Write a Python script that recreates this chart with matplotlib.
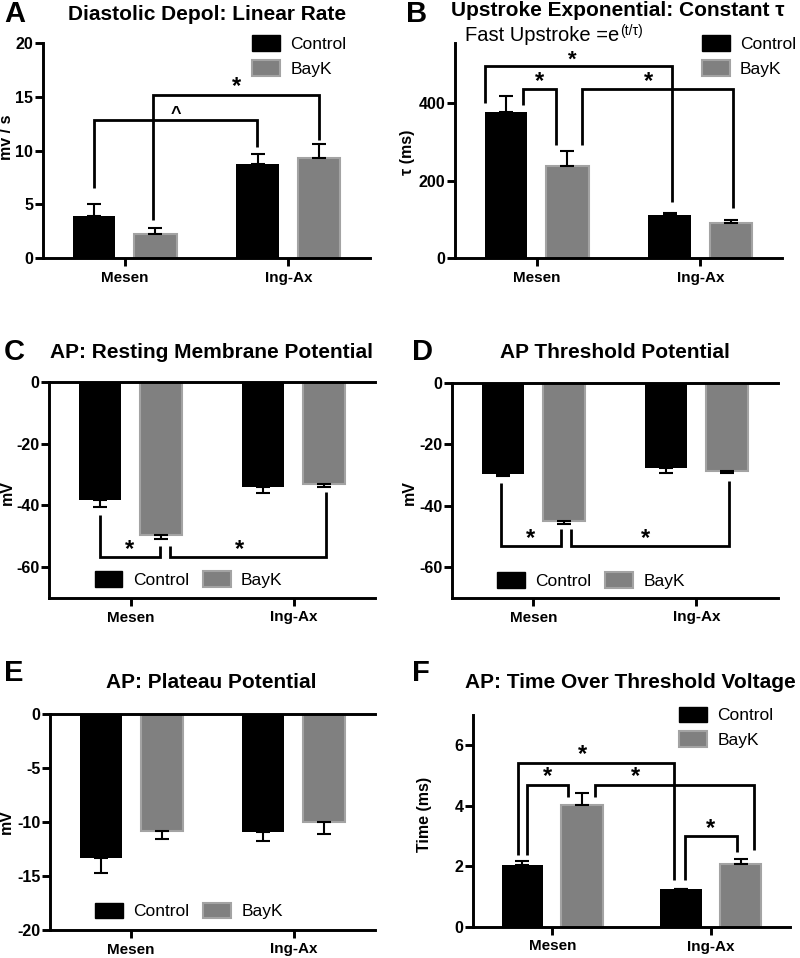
import numpy as np
import matplotlib.pyplot as plt
from matplotlib.patches import Patch

plt.rcParams['font.family'] = ['Liberation Sans', 'DejaVu Sans']
plt.rcParams['axes.unicode_minus'] = False

groups = ['Mesen', 'Ing-Ax']
series = ['Control', 'BayK']

# A: diastolic depolarization, linear rate (mv/s)
a_control = [3.9, 8.7]
a_control_sem = [1.1, 1.0]
a_bayk = [2.2, 9.3]
a_bayk_sem = [0.6, 1.3]

# B: upstroke exponential tau (ms)
b_control = [378, 111]
b_control_sem = [41, 4]
b_bayk = [238, 91]
b_bayk_sem = [39, 7]

# C: resting membrane potential (mV)
c_control = [-38.3, -34.1]
c_control_sem = [2.2, 1.9]
c_bayk = [-49.7, -33.0]
c_bayk_sem = [1.3, 1.0]

# D: threshold potential (mV)
d_control = [-29.6, -27.7]
d_control_sem = [0.8, 1.7]
d_bayk = [-45.0, -28.8]
d_bayk_sem = [0.8, 0.6]

# E: plateau potential (mV)
e_control = [-13.3, -10.95]
e_control_sem = [1.4, 0.85]
e_bayk = [-10.8, -10.0]
e_bayk_sem = [0.75, 1.1]

# F: time over threshold voltage (ms)
f_control = [2.06, 1.25]
f_control_sem = [0.12, 0.02]
f_bayk = [4.04, 2.08]
f_bayk_sem = [0.37, 0.15]

GRAY = '#808080'
GRAY_EDGE = '#a3a3a3'
OFF = 0.188
W = 0.26
LW = 2.1

W_PX, H_PX = 800, 958
fig = plt.figure(figsize=(W_PX / 100, H_PX / 100), dpi=100)


def rect(l, t, r, b):
    return [l / W_PX, 1 - b / H_PX, (r - l) / W_PX, (b - t) / H_PX]


def draw_bars(ax, ctrl, ctrl_sem, bayk, bayk_sem):
    x = np.arange(len(groups))
    for vals, sem, off, fc, ec, lw in [(ctrl, ctrl_sem, -OFF, 'black', 'black', 0),
                                       (bayk, bayk_sem, OFF, GRAY, GRAY_EDGE, 1.5)]:
        vals = np.array(vals)
        sem = np.array(sem)
        lo = np.where(vals < 0, sem, 0)
        hi = np.where(vals >= 0, sem, 0)
        ax.bar(x + off, vals, W, color=fc, edgecolor=ec, linewidth=lw, zorder=2)
        ax.errorbar(x + off, vals, yerr=[lo, hi], fmt='none', ecolor='black',
                    elinewidth=1.5, capsize=5, capthick=1.5, zorder=3)
    ax.set_xticks(x)
    ax.set_xticklabels(groups, fontweight='bold', fontsize=11)
    ax.set_xlim(-0.5, 1.5)


def style(ax, ylabel, lx, ly, top=False):
    for s in ['top', 'right', 'left', 'bottom']:
        ax.spines[s].set_visible(False)
    ax.spines['left'].set_visible(True)
    ax.spines['bottom'].set_visible(True)
    ax.spines['left'].set_linewidth(LW)
    ax.spines['bottom'].set_linewidth(LW)
    if top:
        ax.spines['top'].set_visible(True)
        ax.spines['top'].set_linewidth(LW)
    ax.tick_params(axis='both', width=LW, length=5.5, direction='out')
    ax.tick_params(axis='y', labelsize=11.5, pad=1.5)
    for lab in ax.get_yticklabels():
        lab.set_fontweight('bold')
    ax.set_ylabel(ylabel, fontweight='bold', fontsize=11.5)
    ax.yaxis.set_label_coords(lx, ly)


def bracket(ax, x1, x2, y, y1, y2, label='*', sx=None, size=17, dy=1):
    ax.plot([x1, x1, x2, x2], [y1, y, y, y2], color='black', lw=2,
            solid_joinstyle='miter', solid_capstyle='butt', zorder=4, clip_on=False)
    if sx is None:
        sx = (x1 + x2) / 2
    ax.annotate(label, (sx, y), xytext=(0, dy), textcoords='offset points',
                ha='center', va='baseline', fontsize=size, fontweight='bold')


def legend(ax, x, y, ncol=1):
    handles = [Patch(facecolor='black', edgecolor='black'),
               Patch(facecolor=GRAY, edgecolor=GRAY_EDGE, linewidth=1.5)]
    ax.legend(handles, series, loc='upper left', bbox_to_anchor=(x, y), ncol=ncol,
              frameon=False, fontsize=12.5, borderpad=0, borderaxespad=0,
              handlelength=1.6, handleheight=1.0, handletextpad=0.6,
              labelspacing=0.45, columnspacing=0.8)


def titles(letter, lx, ly, title, tx, ty):
    fig.text(lx / W_PX, 1 - ly / H_PX, letter, fontsize=21, fontweight='bold',
             ha='left', va='center')
    fig.text(tx / W_PX, 1 - ty / H_PX, title, fontsize=15, fontweight='bold',
             ha='center', va='center')


# A
ax = fig.add_axes(rect(43, 43, 370, 258))
draw_bars(ax, a_control, a_control_sem, a_bayk, a_bayk_sem)
ax.set_ylim(0, 20)
ax.set_yticks([0, 5, 10, 15, 20])
style(ax, 'mv / s', -0.088, 0.56)
bracket(ax, -0.19, 0.81, 12.8, 6.5, 10.3, '^', size=13)
bracket(ax, 0.175, 1.19, 15.2, 3.5, 11.0)
legend(ax, 0.64, 1.035)
titles('A', 4, 14, 'Diastolic Depol: Linear Rate', 207, 14)

# B
ax = fig.add_axes(rect(455, 43, 782, 258))
draw_bars(ax, b_control, b_control_sem, b_bayk, b_bayk_sem)
ax.set_ylim(0, 555)
ax.set_yticks([0, 200, 400])
style(ax, 'τ (ms)', -0.122, 0.49)
bracket(ax, -0.314, 0.825, 496, 400, 145, sx=0.215, size=16, dy=0)
bracket(ax, -0.086, 0.117, 435, 395, 291)
bracket(ax, 0.277, 1.2, 435, 291, 128, sx=0.683)
legend(ax, 0.755, 1.035)
titles('B', 406, 14, 'Upstroke Exponential: Constant τ', 618, 11)
sub = fig.text(465 / W_PX, 1 - 41 / H_PX, 'Fast Upstroke =e', fontsize=14.5,
               ha='left', va='baseline')
ax.annotate('(t/τ)', xy=(1, 0), xycoords=sub, xytext=(0.5, 7), textcoords='offset points',
            fontsize=10, ha='left', va='baseline', annotation_clip=False)

# C
ax = fig.add_axes(rect(49, 382, 375, 598))
draw_bars(ax, c_control, c_control_sem, c_bayk, c_bayk_sem)
ax.set_ylim(-70, 0)
ax.set_yticks([0, -20, -40, -60])
style(ax, 'mV', -0.105, 0.49, top=True)
bracket(ax, -0.19, 0.18, -56.7, -43, -53)
bracket(ax, 0.24, 1.20, -56.7, -53, -35.6, sx=0.67)
legend(ax, 0.14, 0.125, ncol=2)
titles('C', 4, 352, 'AP: Resting Membrane Potential', 212, 352)

# D
ax = fig.add_axes(rect(452, 383, 778, 598))
draw_bars(ax, d_control, d_control_sem, d_bayk, d_bayk_sem)
ax.set_ylim(-70, 0)
ax.set_yticks([0, -20, -40, -60])
style(ax, 'mV', -0.108, 0.49, top=True)
bracket(ax, -0.198, 0.167, -53.2, -32.6, -47.5)
bracket(ax, 0.228, 1.198, -53.2, -47.5, -31.8, sx=0.685)
legend(ax, 0.138, 0.12, ncol=2)
titles('D', 412, 352, 'AP Threshold Potential', 615, 352)

# E
ax = fig.add_axes(rect(50, 714, 375, 930))
draw_bars(ax, e_control, e_control_sem, e_bayk, e_bayk_sem)
ax.set_ylim(-20, 0)
ax.set_yticks([0, -5, -10, -15, -20])
style(ax, 'mV', -0.11, 0.5, top=True)
legend(ax, 0.138, 0.126, ncol=2)
titles('E', 4, 673, 'AP: Plateau Potential', 211, 683)

# F
ax = fig.add_axes(rect(473, 715, 790, 927))
draw_bars(ax, f_control, f_control_sem, f_bayk, f_bayk_sem)
ax.set_ylim(0, 7)
ax.set_yticks([0, 2, 4, 6])
style(ax, 'Time (ms)', -0.129, 0.53)
bracket(ax, -0.214, 0.765, 5.43, 2.37, 1.55, sx=0.19)
bracket(ax, -0.158, 0.10, 4.7, 2.37, 4.28)
bracket(ax, 0.268, 1.27, 4.7, 4.28, 2.53, sx=0.525)
bracket(ax, 0.837, 1.163, 3.0, 1.55, 2.48)
legend(ax, 0.65, 1.04)
titles('F', 412, 673, 'AP: Time Over Threshold Voltage', 630, 683)

fig.savefig('out.png', dpi=100)
